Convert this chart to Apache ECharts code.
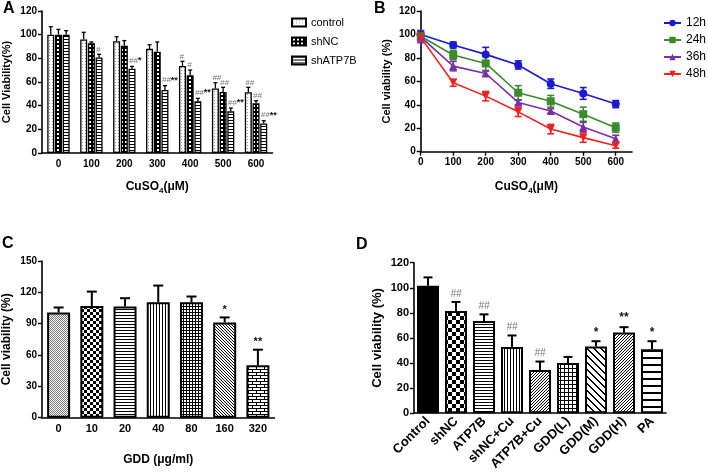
<!DOCTYPE html>
<html><head><meta charset="utf-8">
<script src="https://cdn.jsdelivr.net/npm/echarts@6/dist/echarts.min.js"></script>
<style>html,body{margin:0;padding:0;background:#fff}#c{width:708px;height:473px}</style>
</head><body><div id="c"></div>
<script>
// ---------- DATA ----------
// Panel A
const doseA = ['0', '100', '200', '300', '400', '500', '600'];
const controlA = [100, 96, 94.4, 88, 73.5, 54.6, 51.3];
const controlErrA = [6.8, 6, 3.9, 3.5, 4, 4.8, 4.2];
const controlSigA = ['', '', '', '', '#', '##', '##'];
const shNCA = [100, 92.7, 90.7, 85.6, 65.6, 51.5, 42];
const shNCErrA = [4.5, 1.1, 4.3, 8.2, 4.5, 4, 2.2];
const shNCSigA = ['', '', '', '', '#', '##', '##'];
const shATP7BA = [100, 80.8, 71.3, 53.2, 43.7, 35.2, 25];
const shATP7BErrA = [3.4, 2.6, 1.9, 3.7, 2.5, 2.8, 2.3];
const shATP7BSigA = ['', '#', '##*', '##**', '##**', '##**', '##**'];
// Panel B
const doseB = [0, 100, 200, 300, 400, 500, 600];
const h12 = [100, 91, 83, 74, 58, 49.7, 40.6];
const h12Err = [3, 2.5, 6, 3.5, 4, 5, 3];
const h24 = [98.5, 82.5, 75.3, 50.3, 43, 32, 20.5];
const h24Err = [5, 4, 6, 6, 5, 6, 4];
const h36 = [98, 73, 66.7, 42, 34.7, 21, 11];
const h36Err = [5, 4, 2, 2, 2, 4, 3];
const h48 = [97.5, 58.8, 47.4, 34, 19.3, 12, 5];
const h48Err = [3, 3, 4, 4, 4, 4, 2];
const ticksB = [0, 100, 200, 300, 400, 500, 600];
// Panel C
const gddC = ['0', '10', '20', '40', '80', '160', '320'];
const viaC = [100.7, 107, 106.5, 110.6, 110.6, 91.2, 50.2];
const errC = [4.8, 13.7, 7.9, 15.9, 5.4, 4.8, 14.9];
const sigC = ['', '', '', '', '', '*', '**'];
// Panel D
const groupsD = ['Control', 'shNC', 'ATP7B', 'shNC+Cu', 'ATP7B+Cu', 'GDD(L)', 'GDD(M)', 'GDD(H)', 'PA'];
const viaD = [101.7, 81.4, 73.6, 52.7, 34.4, 40, 53.2, 64.4, 50.9];
const errD = [6.6, 7.3, 5.2, 9.3, 6.8, 4.9, 4.2, 4.2, 6.5];
const sigD = ['', '##', '##', '##', '##', '', '*', '**', '*'];

// ---------- STYLE HELPERS ----------
const FF = '"Liberation Sans", Arial, sans-serif';
function pat(w, h, draw, bg) {
  const c = document.createElement('canvas'); c.width = w; c.height = h;
  const g = c.getContext('2d'); g.fillStyle = bg || '#fff'; g.fillRect(0, 0, w, h);
  g.fillStyle = '#000'; draw(g, w, h);
  return { image: c, repeat: 'repeat' };
}
const P = {
  dotsLight: pat(3, 3, g => { g.fillStyle = '#999'; g.fillRect(1, 1, 1, 1); }),
  darkDots: pat(4, 4, g => { g.fillStyle = '#fff'; g.fillRect(1, 1, 2, 2); }, '#000'),
  hA: pat(3, 3, g => g.fillRect(0, 0, 3, 1)),
  stipple: pat(2, 2, g => { g.fillStyle = '#777'; g.fillRect(0, 0, 1, 1); g.fillRect(1, 1, 1, 1); }),
  checker3: pat(6, 6, g => { g.fillRect(0, 0, 3, 3); g.fillRect(3, 3, 3, 3); }),
  checker4: pat(8, 8, g => { g.fillRect(0, 0, 4, 4); g.fillRect(4, 4, 4, 4); }),
  h3: pat(3, 3, g => g.fillRect(0, 0, 3, 1)),
  v3: pat(3, 3, g => g.fillRect(0, 0, 1, 3)),
  grid3: pat(3, 3, g => { g.fillRect(0, 0, 3, 1); g.fillRect(0, 0, 1, 3); }),
  grid4: pat(4, 4, g => { g.fillRect(0, 0, 4, 1); g.fillRect(0, 0, 1, 4); }),
  back3: pat(3, 3, g => { for (let i = 0; i < 3; i++) g.fillRect(i, i, 1, 1); }),
  fwd3: pat(3, 3, g => { for (let i = 0; i < 3; i++) g.fillRect(i, 2 - i, 1, 1); }),
  back7: pat(7, 7, g => { for (let i = 0; i < 7; i++) { g.fillRect(i, i, 1, 1); g.fillRect((i + 1) % 7, i, 1, 1); } }),
  brick: pat(8, 6, g => { g.fillRect(0, 0, 8, 1); g.fillRect(0, 3, 8, 1); g.fillRect(0, 0, 1, 3); g.fillRect(4, 3, 1, 3); }),
  h7: pat(7, 7, g => g.fillRect(0, 0, 7, 2)),
  black: '#000'
};
const patC = [P.stipple, P.checker3, P.h3, P.v3, P.grid3, P.back3, P.brick];
const patD = [P.black, P.checker4, P.h3, P.v3, P.fwd3, P.grid4, P.back7, P.fwd3, P.h7];

function ln(x1, y1, x2, y2, c, w) { return { type: 'line', shape: { x1, y1, x2, y2 }, style: { stroke: c, lineWidth: w } }; }

function sigRich(s, x, y, align, hSize, sSize) {
  const h = (s.match(/#+/) || [''])[0], st = (s.match(/\*+/) || [''])[0];
  let text = ''; if (h) text += '{h|' + h + '}'; if (st) text += '{s|' + st + '}';
  return { type: 'text', x, y, style: { text, align, verticalAlign: 'bottom',
    rich: { h: { fontSize: hSize, fontStyle: 'italic', fill: '#777', fontFamily: FF },
            s: { fontSize: sSize, fontWeight: 'bold', fill: '#111', fontFamily: FF } } } };
}

function barErr(offset, capW, lw, sig, sigFn) {
  return function (params, api) {
    const i = api.value(0), v = api.value(1), e = api.value(2);
    const b = api.coord([i, v]), t = api.coord([i, v + e]);
    const cx = b[0] + offset;
    const ch = [ln(cx, b[1], cx, t[1], '#000', lw), ln(cx - capW / 2, t[1], cx + capW / 2, t[1], '#000', lw)];
    const s = sig[params.dataIndex];
    if (s) ch.push(sigFn(s, cx, t[1]));
    return { type: 'group', children: ch };
  };
}
function lineErr(color) {
  return function (params, api) {
    const x = api.value(0), y = api.value(1), e = api.value(2);
    const lo = api.coord([x, y - e]), hi = api.coord([x, y + e]);
    const cx = lo[0], w = 3.5;
    return { type: 'group', children: [ln(cx, lo[1], cx, hi[1], color, 1.6), ln(cx - w, lo[1], cx + w, lo[1], color, 1.6), ln(cx - w, hi[1], cx + w, hi[1], color, 1.6)] };
  };
}

const axisLine = { lineStyle: { color: '#000', width: 1.6 } };
const axisTick = { lineStyle: { color: '#000', width: 1.4 }, length: 4 };
const lab = (sz, extra) => Object.assign({ color: '#000', fontWeight: 'bold', fontSize: sz, fontFamily: FF }, extra || {});
const cuName = { name: '{a|CuSO}{s|4}{a|(μM)}', nameLocation: 'middle',
  nameTextStyle: { rich: { a: { fontSize: 12, fontWeight: 'bold', fontFamily: FF, color: '#000', lineHeight: 16 },
                           s: { fontSize: 8, fontWeight: 'bold', fontFamily: FF, color: '#000', lineHeight: 16, verticalAlign: 'bottom', padding: [7, 0, 0, 0] } } } };

const wA = 7, gA = 0.7;
const seriesA = [
  { name: 'control', vals: controlA, err: controlErrA, sig: controlSigA, pat: P.dotsLight, off: -(wA + gA) },
  { name: 'shNC', vals: shNCA, err: shNCErrA, sig: shNCSigA, pat: P.darkDots, off: 0 },
  { name: 'shATP7B', vals: shATP7BA, err: shATP7BErrA, sig: shATP7BSigA, pat: P.hA, off: wA + gA }
];
const lineB = [
  { name: '12h', vals: h12, err: h12Err, color: '#1a1ad0', symbol: 'circle', rot: 0 },
  { name: '24h', vals: h24, err: h24Err, color: '#3b8a2e', symbol: 'rect', rot: 0 },
  { name: '36h', vals: h36, err: h36Err, color: '#7a2fa8', symbol: 'triangle', rot: 0 },
  { name: '48h', vals: h48, err: h48Err, color: '#ee2222', symbol: 'triangle', rot: 180 }
];

const series = [];
seriesA.forEach(s => series.push({ type: 'bar', name: s.name, xAxisIndex: 0, yAxisIndex: 0, barWidth: wA, barGap: '10%',
  data: s.vals, itemStyle: { color: s.pat, borderColor: '#000', borderWidth: 1.3 } }));
seriesA.forEach(s => series.push({ type: 'custom', xAxisIndex: 0, yAxisIndex: 0, clip: false, z: 3,
  renderItem: barErr(s.off, 4, 1.3, s.sig, (t, cx, y) => sigRich(t, cx - 3, y - 1, 'left', 8, 9)),
  data: s.vals.map((v, i) => [i, v, s.err[i]]) }));
lineB.forEach(s => series.push({ type: 'custom', xAxisIndex: 1, yAxisIndex: 1, clip: false, z: 2,
  renderItem: lineErr(s.color), data: doseB.map((d, i) => [d, s.vals[i], s.err[i]]) }));
lineB.forEach(s => series.push({ type: 'line', name: s.name, xAxisIndex: 1, yAxisIndex: 1, clip: false, z: 4,
  data: doseB.map((d, i) => [d, s.vals[i]]), symbol: s.symbol, symbolRotate: s.rot, symbolSize: 8,
  itemStyle: { color: s.color }, lineStyle: { color: s.color, width: 1.6 } }));
series.push({ type: 'bar', xAxisIndex: 2, yAxisIndex: 2, barWidth: 23,
  data: viaC.map((v, i) => ({ value: v, itemStyle: { color: patC[i] } })), itemStyle: { borderColor: '#000', borderWidth: 2 } });
series.push({ type: 'custom', xAxisIndex: 2, yAxisIndex: 2, clip: false, z: 3,
  renderItem: barErr(0, 10, 2, sigC, (t, cx, y) => sigRich(t, cx, y - 2, 'center', 9, 11)),
  data: viaC.map((v, i) => [i, v, errC[i]]) });
series.push({ type: 'bar', xAxisIndex: 3, yAxisIndex: 3, barWidth: 22,
  data: viaD.map((v, i) => ({ value: v, itemStyle: { color: patD[i] } })), itemStyle: { borderColor: '#000', borderWidth: 2 } });
series.push({ type: 'custom', xAxisIndex: 3, yAxisIndex: 3, clip: false, z: 3,
  renderItem: barErr(0, 9, 2, sigD, (t, cx, y) => sigRich(t, cx, y - 3, 'center', 10, 12)),
  data: viaD.map((v, i) => [i, v, errD[i]]) });

const option = {
  animation: false,
  backgroundColor: '#fff',
  textStyle: { fontFamily: FF },
  grid: [
    { left: 40.5, top: 11, width: 232, height: 142 },
    { left: 420.7, top: 11, width: 211.3, height: 140.7 },
    { left: 40, top: 261, width: 234.5, height: 156.7 },
    { left: 414, top: 262.7, width: 252, height: 153.3 }
  ],
  xAxis: [
    Object.assign({ type: 'category', gridIndex: 0, data: doseA, axisLine, axisTick: Object.assign({ alignWithLabel: true }, axisTick),
      axisLabel: lab(10, { margin: 6 }), nameGap: 26 }, cuName),
    Object.assign({ type: 'value', gridIndex: 1, min: 0, max: 650, interval: 100, splitLine: { show: false }, axisLine,
      axisTick: Object.assign({ customValues: ticksB }, axisTick), axisLabel: lab(10, { margin: 6, customValues: ticksB }), nameGap: 27 }, cuName),
    { type: 'category', gridIndex: 2, data: gddC, axisLine, axisTick: Object.assign({ alignWithLabel: true }, axisTick),
      axisLabel: lab(11, { margin: 6 }), name: 'GDD (μg/ml)', nameLocation: 'middle', nameGap: 36,
      nameTextStyle: { fontSize: 12, fontWeight: 'bold', color: '#000', fontFamily: FF } },
    { type: 'category', gridIndex: 3, data: groupsD, axisLine, axisTick: Object.assign({ alignWithLabel: true }, axisTick),
      axisLabel: lab(13, { rotate: 45, margin: 6, interval: 0 }) }
  ],
  yAxis: [
    { type: 'value', gridIndex: 0, min: 0, max: 120, interval: 20, splitLine: { show: false }, axisLine: Object.assign({ show: true }, axisLine),
      axisTick: Object.assign({ show: true }, axisTick), axisLabel: lab(10, { margin: 5 }),
      name: 'Cell Viability(%)', nameLocation: 'middle', nameGap: 30, nameTextStyle: { fontSize: 11, fontWeight: 'bold', color: '#000', fontFamily: FF } },
    { type: 'value', gridIndex: 1, min: 0, max: 120, interval: 20, splitLine: { show: false }, axisLine: Object.assign({ show: true }, axisLine),
      axisTick: Object.assign({ show: true }, axisTick), axisLabel: lab(10, { margin: 5 }),
      name: 'Cell viability (%)', nameLocation: 'middle', nameGap: 28, nameTextStyle: { fontSize: 11, fontWeight: 'bold', color: '#000', fontFamily: FF } },
    { type: 'value', gridIndex: 2, min: 0, max: 150, interval: 30, splitLine: { show: false }, axisLine: Object.assign({ show: true }, axisLine),
      axisTick: Object.assign({ show: true }, axisTick), axisLabel: lab(10, { margin: 5 }),
      name: 'Cell viability (%)', nameLocation: 'middle', nameGap: 29, nameTextStyle: { fontSize: 12, fontWeight: 'bold', color: '#000', fontFamily: FF } },
    { type: 'value', gridIndex: 3, min: 0, max: 120, interval: 20, splitLine: { show: false }, axisLine: Object.assign({ show: true }, axisLine),
      axisTick: Object.assign({ show: true }, axisTick), axisLabel: lab(11, { margin: 5 }),
      name: 'Cell viability (%)', nameLocation: 'middle', nameGap: 30, nameTextStyle: { fontSize: 13, fontWeight: 'bold', color: '#000', fontFamily: FF } }
  ],
  legend: [
    { data: ['control', 'shNC', 'shATP7B'], orient: 'vertical', left: 286, top: 12, icon: 'rect', itemWidth: 14, itemHeight: 8, itemGap: 8,
      textStyle: { fontSize: 11, color: '#000', fontFamily: FF } },
    { data: ['12h', '24h', '36h', '48h'], orient: 'vertical', left: 658, top: 12, itemWidth: 17, itemHeight: 8, itemGap: 5,
      textStyle: { fontSize: 12, color: '#000', fontFamily: FF } }
  ],
  graphic: [
    { type: 'text', left: 3, top: 1, style: { text: 'A', font: 'bold 16px ' + FF, fill: '#000' } },
    { type: 'text', left: 374, top: 1, style: { text: 'B', font: 'bold 16px ' + FF, fill: '#000' } },
    { type: 'text', left: 2, top: 236, style: { text: 'C', font: 'bold 16px ' + FF, fill: '#000' } },
    { type: 'text', left: 356, top: 237, style: { text: 'D', font: 'bold 16px ' + FF, fill: '#000' } }
  ],
  series
};
const chart = echarts.init(document.getElementById('c'), null, { renderer: 'canvas' });
chart.setOption(option);
</script>
</body></html>
